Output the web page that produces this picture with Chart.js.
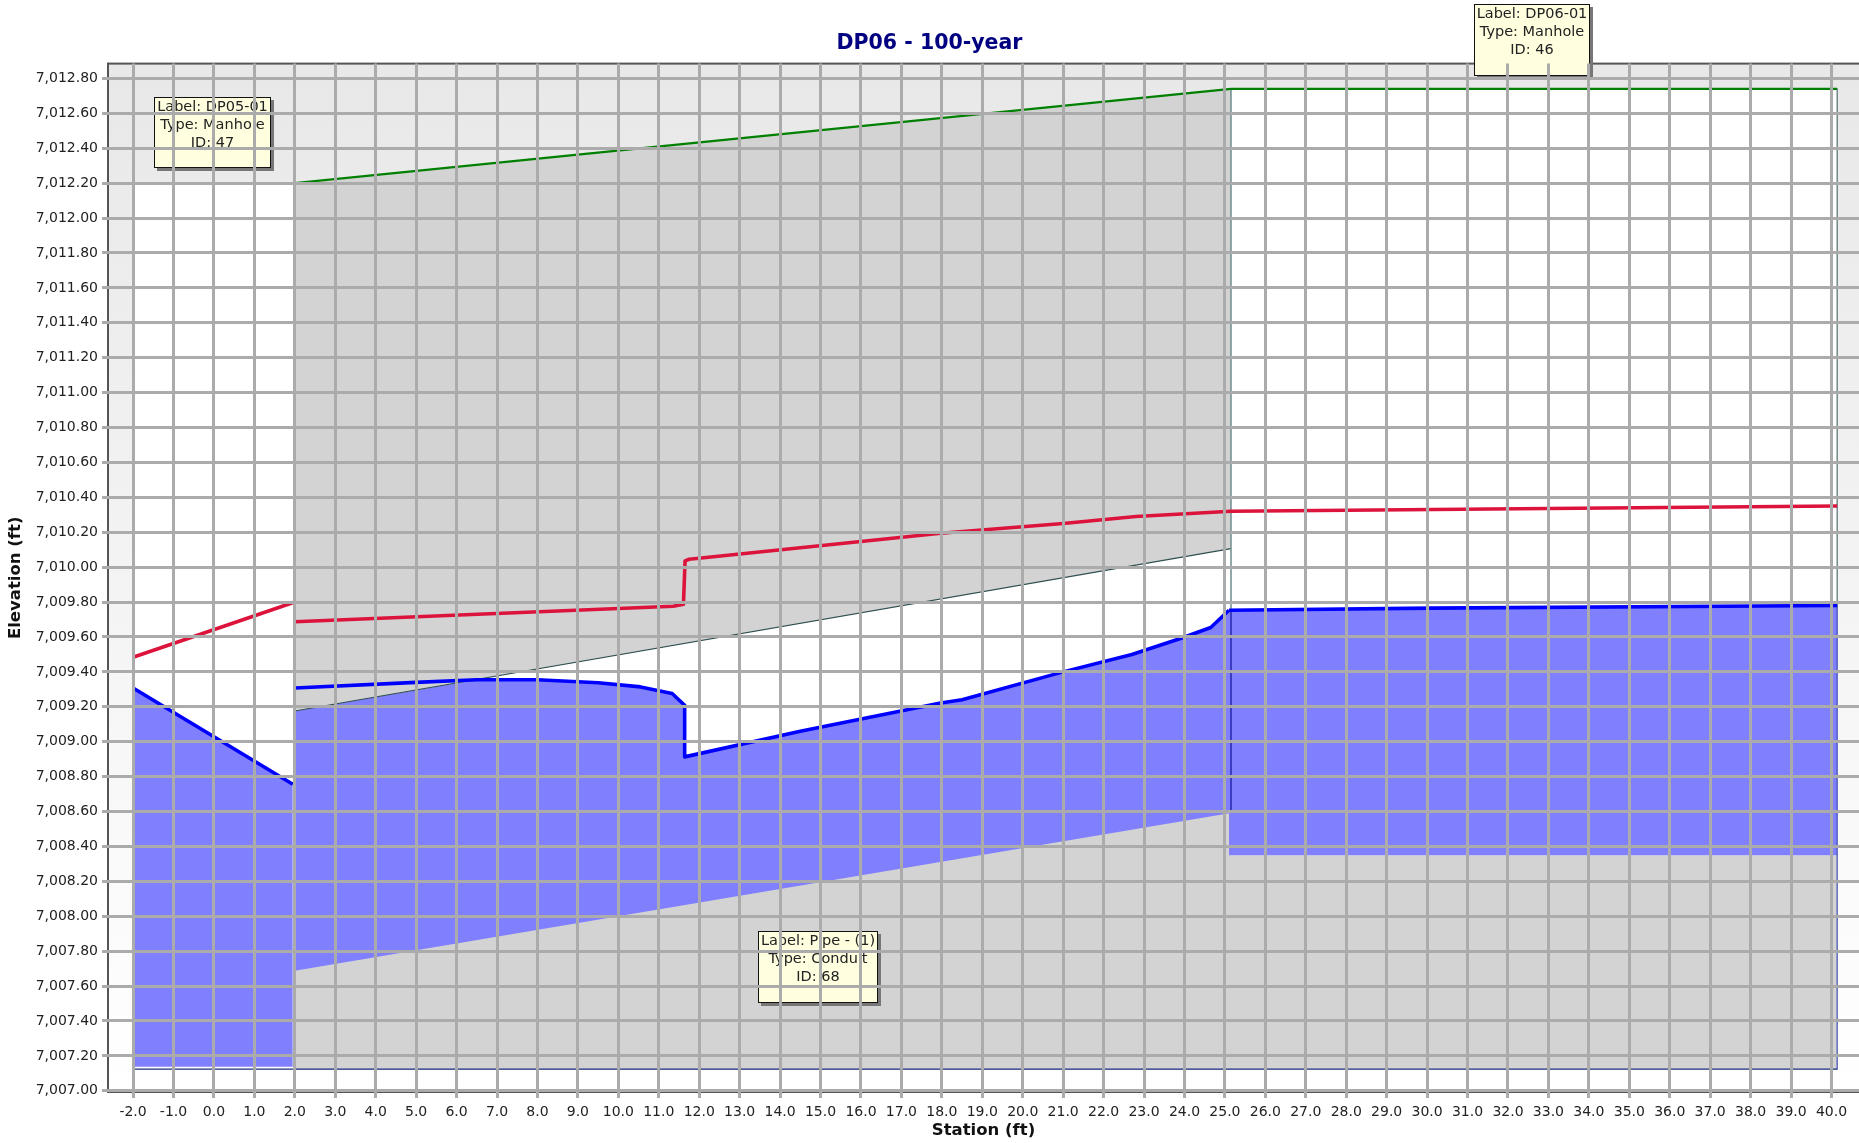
<!DOCTYPE html>
<html>
<head>
<meta charset="utf-8">
<title>DP06 - 100-year</title>
<script src="https://cdn.jsdelivr.net/npm/chart.js@4/dist/chart.umd.min.js"></script>
<style>
  html, body { margin: 0; padding: 0; background: #fff; }
  #wrap { width: 1859px; height: 1143px; }
</style>
</head>
<body>
<div id="wrap"><canvas id="profile" width="1859" height="1143"></canvas></div>
<script>
// stations (ft) and elevations (ft)
var groundX = [-2.0, 2.0, 25.15, 40.14];
var groundY = [7012.2, 7012.2, 7012.74, 7012.74];

var coverX = [2.0, 25.15];
var coverY = [7012.2, 7012.74];

var crownX = [2.0, 25.15];
var crownY = [7009.176, 7010.106];

var invertX = [2.0, 25.15];
var invertY = [7007.687, 7008.592];

var floorRightX = [25.15, 40.14];
var floorRightY = [7008.35, 7008.35];

var hglLeftX = [-2.0, 1.95];
var hglLeftY = [7009.308, 7008.756];

var hglPipeX = [2.0, 5.0, 6.5, 8.0, 9.5, 10.55, 11.33, 11.64, 11.64, 14.5, 17.97, 18.5, 21.0, 22.7, 23.9, 24.65, 25.1];
var hglPipeY = [7009.308, 7009.34, 7009.355, 7009.355, 7009.338, 7009.314, 7009.276, 7009.209, 7008.913, 7009.06, 7009.222, 7009.24, 7009.4, 7009.5, 7009.591, 7009.654, 7009.753];

var hglRightX = [25.1, 30.09, 40.14];
var hglRightY = [7009.753, 7009.765, 7009.78];

// water surface clipped by the pipe crown, used for the blue fill only
var waterPipeX = [1.96, 2.0, 2.0, 6.5, 8.0, 9.5, 10.55, 11.33, 11.64, 11.64, 14.5, 17.97, 18.5, 21.0, 22.7, 23.9, 24.65, 25.15];
var waterPipeY = [7009.308, 7009.308, 7009.176, 7009.355, 7009.355, 7009.338, 7009.314, 7009.276, 7009.209, 7008.913, 7009.06, 7009.222, 7009.24, 7009.4, 7009.5, 7009.591, 7009.654, 7009.753];

var egl1X = [-2.0, 2.0];
var egl1Y = [7009.484, 7009.80];
var egl2X = [2.0, 11.36, 11.61, 11.65, 11.75, 17.97, 21.0, 22.8, 25.15, 40.14];
var egl2Y = [7009.687, 7009.776, 7009.787, 7010.036, 7010.045, 7010.194, 7010.25, 7010.29, 7010.32, 7010.35];

var wallMidUpperX = [25.15, 25.15];
var wallMidUpperY = [7012.74, 7009.753];
var wallMidLowerX = [25.15, 25.15];
var wallMidLowerY = [7009.753, 7008.6];
var wallRightUpperX = [40.14, 40.14];
var wallRightUpperY = [7012.74, 7009.78];
var wallRightLowerX = [40.14, 40.14];
var wallRightLowerY = [7009.78, 7007.124];
var sumpX = [-2.0, 40.14];
var sumpY = [7007.124, 7007.124];

var leftFloor = 7007.138;
var bottomFloor = 7007.124;

var note1 = ["Label: DP05-01", "Type: Manhole", "ID: 47"];
var note2 = ["Label: DP06-01", "Type: Manhole", "ID: 46"];
var note3 = ["Label: Pipe - (1)", "Type: Conduit", "ID: 68"];

var pts = function(xs, ys) {
  return xs.map(function(x, i) { return {x: x, y: ys[i]}; });
};

// filled region
var area = function(xs, ys, color, floor) {
  return {
    data: pts(xs, ys), borderWidth: 0, borderColor: 'transparent', backgroundColor: color,
    fill: {target: {value: floor}}, pointRadius: 0, tension: 0
  };
};
var line = function(xs, ys, color, width) {
  return {
    data: pts(xs, ys), borderColor: color, borderWidth: width, fill: false,
    pointRadius: 0, tension: 0, borderJoinStyle: 'round'
  };
};

var GRAY = '#d3d3d3', BLUE = '#8080ff', WHITE = '#ffffff';

// listed back to front, reversed below because Chart.js paints the first dataset last
var datasets = [
  area(groundX, groundY, WHITE, bottomFloor),
  area(coverX, coverY, GRAY, bottomFloor),
  area(crownX, crownY, WHITE, bottomFloor),
  area(floorRightX, floorRightY, GRAY, bottomFloor),
  area(hglLeftX, hglLeftY, BLUE, leftFloor),
  area(waterPipeX, waterPipeY, BLUE, bottomFloor),
  area(invertX, invertY, GRAY, bottomFloor),
  area(hglRightX, hglRightY, BLUE, 7008.35),
  line(crownX, crownY, '#2f4f4f', 1.2),
  line(wallMidUpperX, wallMidUpperY, '#6e8c8c', 1.5),
  line(wallMidLowerX, wallMidLowerY, '#3c3cc0', 2),
  line(wallRightUpperX, wallRightUpperY, '#4f6f6f', 1.2),
  line(wallRightLowerX, wallRightLowerY, '#3c4cb0', 1.2),
  line(sumpX, sumpY, '#1a2f80', 1.2),
  line(groundX.slice(0, 2), groundY.slice(0, 2), '#4f8f4f', 1),
  line(coverX, coverY, '#008000', 2.2),
  line(groundX.slice(2), groundY.slice(2), '#008000', 2.2),
  line(egl1X, egl1Y, '#dc143c', 3.6),
  line(egl2X, egl2Y, '#dc143c', 3.6),
  line(hglLeftX, hglLeftY, '#0000ff', 3.6),
  line(hglPipeX, hglPipeY, '#0000ff', 3.6),
  line(hglRightX, hglRightY, '#0000ff', 3.6)
].reverse();

var FONT = '"DejaVu Sans", Verdana, sans-serif';

var drawNote = function(ctx, lines, left, top, width, height) {
  ctx.save();
  ctx.fillStyle = '#777777';
  ctx.fillRect(left + 3, top + 3, width, height);
  ctx.fillStyle = '#ffffe0';
  ctx.fillRect(left, top, width, height);
  ctx.strokeStyle = '#111111';
  ctx.lineWidth = 1;
  ctx.strokeRect(left + 0.5, top + 0.5, width - 1, height - 1);
  ctx.fillStyle = '#222222';
  ctx.font = '14.5px ' + FONT;
  ctx.textAlign = 'center';
  ctx.textBaseline = 'middle';
  lines.forEach(function(t, i) {
    ctx.fillText(t, left + width / 2, top + 10 + i * 18);
  });
  ctx.restore();
};

var frame = {
  id: 'frame',
  beforeDatasetsDraw: function(chart) {
    var a = chart.chartArea, ctx = chart.ctx;
    var g = ctx.createLinearGradient(0, a.top, 0, a.bottom);
    g.addColorStop(0, '#e8e8e8');
    g.addColorStop(1, '#ffffff');
    ctx.save();
    ctx.fillStyle = g;
    ctx.fillRect(a.left, a.top, a.right - a.left, a.bottom - a.top);
    ctx.fillStyle = '#555555';
    ctx.fillRect(a.left, a.top - 1, a.right - a.left, 2);
    ctx.fillRect(a.left - 1, a.top - 1, 2, a.bottom - a.top + 2);
    ctx.fillRect(a.left - 1, a.bottom - 1, a.right - a.left + 1, 2);
    ctx.restore();
  },
  // runs before the grid (z: 1), so the grid crosses the notes as in the original
  afterDatasetsDraw: function(chart) {
    var ctx = chart.ctx;
    drawNote(ctx, note1, 154, 97, 117, 71);
    drawNote(ctx, note2, 1474, 4, 116, 72);
    drawNote(ctx, note3, 758, 931, 120, 72);
  }
};

var gridOpts = {
  color: '#ababab', lineWidth: 3, z: 1, tickColor: '#ababab', tickLength: 6, drawTicks: true
};

new Chart(document.getElementById('profile').getContext('2d'), {
  type: 'scatter',
  data: {datasets: datasets},
  plugins: [frame],
  options: {
    responsive: false,
    animation: false,
    showLine: true,
    layout: {padding: 0},
    plugins: {
      legend: {display: false},
      tooltip: {enabled: false},
      title: {
        display: true,
        text: 'DP06 - 100-year',
        color: '#000080',
        font: {family: FONT, size: 20.5, weight: 'bold'},
        padding: {top: 31, bottom: 8}
      }
    },
    scales: {
      x: {
        type: 'linear', min: -2.62, max: 40.68,
        afterFit: function(s) { s.height = 51; },
        grid: gridOpts,
        border: {display: false},
        ticks: {
          stepSize: 1, includeBounds: false, autoSkip: false, maxRotation: 0, color: '#222222', padding: 6,
          font: {family: FONT, size: 14},
          callback: function(v) { return v.toFixed(1); }
        },
        title: {display: true, text: 'Station (ft)', color: '#111111', padding: {top: 0, bottom: 2},
          font: {family: FONT, size: 16.5, weight: 'bold'}}
      },
      y: {
        type: 'linear', min: 7006.993, max: 7012.885,
        afterFit: function(s) { s.width = 108; },
        grid: gridOpts,
        border: {display: false},
        ticks: {
          stepSize: 0.2, includeBounds: false, autoSkip: false, color: '#222222', padding: 4,
          font: {family: FONT, size: 14},
          callback: function(v) {
            return v.toLocaleString('en-US', {minimumFractionDigits: 2, maximumFractionDigits: 2});
          }
        },
        title: {display: true, text: 'Elevation (ft)', color: '#111111', padding: {top: 6, bottom: 0},
          font: {family: FONT, size: 16.5, weight: 'bold'}}
      }
    }
  }
});
</script>
</body>
</html>
